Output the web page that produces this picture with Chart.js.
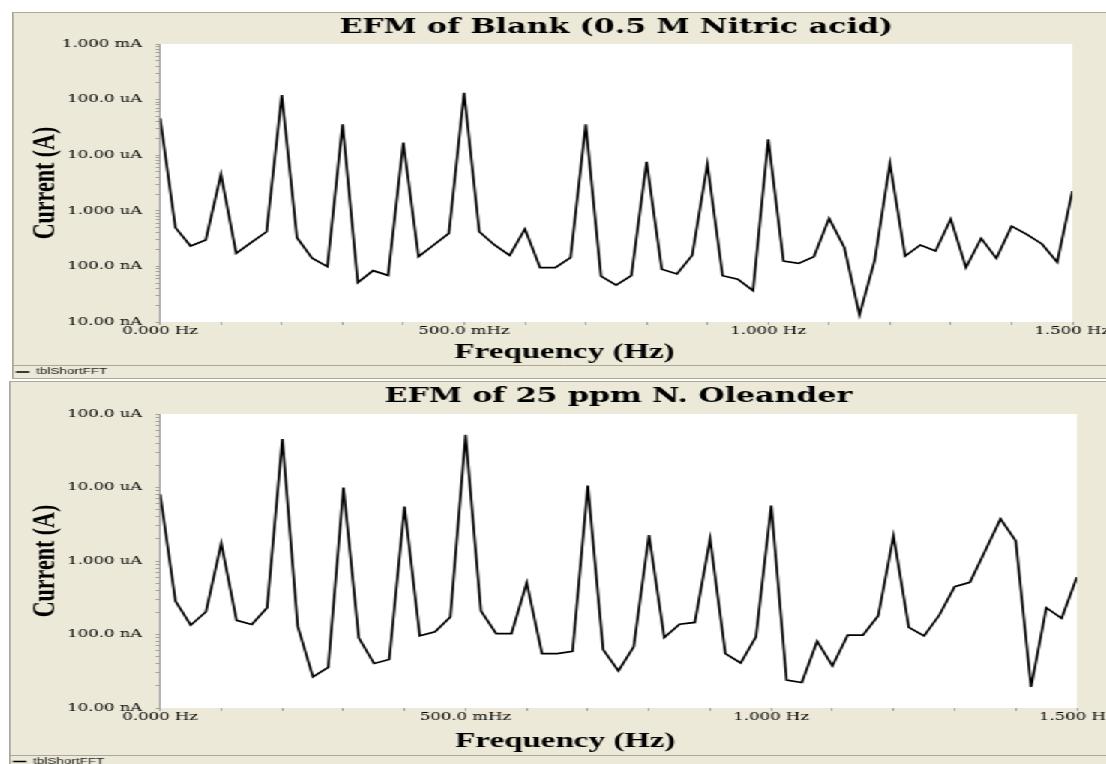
<!DOCTYPE html>
<html>
<head>
<meta charset="utf-8">
<title>EFM spectra</title>
<script src="https://cdn.jsdelivr.net/npm/chart.js@4.4.1/dist/chart.umd.min.js"></script>
<style>
  html, body { margin: 0; padding: 0; background: #fff; overflow: hidden; width: 1106px; height: 764px; }
  /* panels are laid out narrow and stretched 1.5x sideways, like the instrument export */
  #page { position: absolute; left: 0; top: 0; width: 738px; height: 764px; transform: scaleX(1.5); transform-origin: 0 0; }
  #page canvas { position: absolute; }
  #blankChart { left: 8px; top: 12px; }
  #oleanderChart { left: 6px; top: 381px; }
</style>
</head>
<body>
<div id="page">
  <canvas id="blankChart" width="737" height="367"></canvas>
  <canvas id="oleanderChart" width="742" height="395"></canvas>
</div>
<script>
// frequency bins of the short FFT (Hz)
const freqHz = [
  0.000, 0.025, 0.050, 0.075, 0.100, 0.125, 0.150, 0.175, 0.200, 0.225,
  0.250, 0.275, 0.300, 0.325, 0.350, 0.375, 0.400, 0.425, 0.450, 0.475,
  0.500, 0.525, 0.550, 0.575, 0.600, 0.625, 0.650, 0.675, 0.700, 0.725,
  0.750, 0.775, 0.800, 0.825, 0.850, 0.875, 0.900, 0.925, 0.950, 0.975,
  1.000, 1.025, 1.050, 1.075, 1.100, 1.125, 1.150, 1.175, 1.200, 1.225,
  1.250, 1.275, 1.300, 1.325, 1.350, 1.375, 1.400, 1.425, 1.450, 1.475,
  1.500
];

// current amplitude (A) - blank, 0.5 M nitric acid
const blankCurrent = [
  4.6e-5, 5.0e-7, 2.33e-7, 2.99e-7, 4.53e-6, 1.72e-7, 2.71e-7, 4.2e-7, 1.21e-4, 3.28e-7,
  1.40e-7, 9.9e-8, 3.59e-5, 5.1e-8, 8.4e-8, 6.9e-8, 1.68e-5, 1.5e-7, 2.43e-7, 3.94e-7,
  1.33e-4, 4.2e-7, 2.43e-7, 1.58e-7, 4.71e-7, 9.5e-8, 9.5e-8, 1.44e-7, 3.59e-5, 6.7e-8,
  4.6e-8, 6.8e-8, 7.6e-6, 8.9e-8, 7.3e-8, 1.58e-7, 6.9e-6, 6.8e-8, 5.9e-8, 3.66e-8,
  1.93e-5, 1.25e-7, 1.13e-7, 1.5e-7, 7.3e-7, 2.2e-7, 1.34e-8, 1.30e-7, 7.1e-6, 1.54e-7,
  2.43e-7, 1.89e-7, 7.1e-7, 9.5e-8, 3.2e-7, 1.40e-7, 5.3e-7, 3.77e-7, 2.53e-7, 1.19e-7,
  2.27e-6
];

// current amplitude (A) - 25 ppm N. oleander
const oleanderCurrent = [
  8.1e-6, 2.85e-7, 1.34e-7, 2.04e-7, 1.74e-6, 1.56e-7, 1.37e-7, 2.31e-7, 4.56e-5, 1.30e-7,
  2.65e-8, 3.56e-8, 1.0e-5, 9.0e-8, 4.03e-8, 4.57e-8, 5.5e-6, 9.6e-8, 1.09e-7, 1.73e-7,
  5.2e-5, 2.1e-7, 1.03e-7, 1.03e-7, 5.06e-7, 5.5e-8, 5.5e-8, 5.9e-8, 1.06e-5, 6.25e-8,
  3.2e-8, 6.8e-8, 2.26e-6, 9.1e-8, 1.38e-7, 1.46e-7, 2.0e-6, 5.5e-8, 4.1e-8, 9.3e-8,
  5.7e-6, 2.39e-8, 2.22e-8, 8.1e-8, 3.74e-8, 9.8e-8, 9.8e-8, 1.80e-7, 2.19e-6, 1.25e-7,
  9.6e-8, 1.84e-7, 4.47e-7, 5.13e-7, 1.38e-6, 3.74e-6, 1.88e-6, 1.93e-8, 2.31e-7, 1.66e-7,
  6.0e-7
];

// decade labels, starting at 10 nA
const blankYLabels = ['10.00 nA', '100.0 nA', '1.000 uA', '10.00 uA', '100.0 uA', '1.000 mA'];
const oleanderYLabels = ['10.00 nA', '100.0 nA', '1.000 uA', '10.00 uA', '100.0 uA'];
const freqLabels = ['0.000 Hz', '500.0 mHz', '1.000 Hz', '1.500 Hz'];

Chart.defaults.font.family = 'DejaVu Serif';
Chart.defaults.color = '#000';

// beige panel, white plot, separator over the legend and the x caption
const panelFrame = {
  id: 'panelFrame',
  beforeDraw(chart) {
    const { ctx, width, height, chartArea, legend } = chart;
    ctx.save();
    ctx.fillStyle = '#ECE9D8';
    ctx.fillRect(0, 0, width, height);
    ctx.fillStyle = '#FFFFFF';
    ctx.fillRect(chartArea.left, chartArea.top, chartArea.right - chartArea.left, chartArea.bottom - chartArea.top);
    ctx.strokeStyle = '#ACA899';
    ctx.lineWidth = 1;
    ctx.strokeRect(0.5, 0.5, width + 4, height - 1);
    const sepY = Math.round(legend.top) + 0.5;
    ctx.beginPath();
    ctx.moveTo(0, sepY);
    ctx.lineTo(width, sepY);
    ctx.stroke();
    ctx.restore();
  },
  afterDraw(chart) {
    // the x caption is centred on the whole panel, not on the plot
    const { ctx, width, legend } = chart;
    ctx.save();
    ctx.font = 'bold 22px "Liberation Serif"';
    ctx.fillStyle = '#000';
    ctx.textAlign = 'center';
    ctx.textBaseline = 'middle';
    ctx.fillText('Frequency (Hz)', width / 2, legend.top - 13);
    ctx.restore();
  }
};

function makeSpectrum(canvasId, title, current, yLabels, box) {
  const minExp = -8;
  const maxExp = minExp + yLabels.length - 1;
  const ctx = document.getElementById(canvasId).getContext('2d');
  return new Chart(ctx, {
    type: 'line',
    data: {
      datasets: [{
        label: 'tblShortFFT',
        data: freqHz.map((f, i) => ({ x: f, y: current[i] })),
        borderColor: '#000',
        backgroundColor: '#000',
        borderWidth: 1.7,
        pointRadius: 0,
        tension: 0,
        fill: false
      }]
    },
    options: {
      responsive: false,
      animation: false,
      layout: { padding: { left: 0, right: 30, top: 0, bottom: box.padBottom } },
      plugins: {
        title: {
          display: true,
          text: title,
          fullSize: false,
          color: '#000',
          font: { family: 'DejaVu Serif', weight: 'bold', size: 20 },
          padding: { top: 4, bottom: box.titleGap }
        },
        legend: {
          display: true,
          position: 'bottom',
          align: 'start',
          labels: {
            usePointStyle: true,
            pointStyle: 'line',
            pointStyleWidth: 9,
            padding: 2.5,
            color: '#222',
            font: { family: 'Liberation Sans', size: 9 }
          }
        },
        tooltip: { enabled: false }
      },
      scales: {
        x: {
          type: 'linear',
          min: 0,
          max: 1.5,
          border: { display: false },
          grid: { drawOnChartArea: false, drawTicks: true, tickLength: 3, color: '#A0A0A0' },
          ticks: {
            stepSize: 0.1,
            autoSkip: false,
            maxRotation: 0,
            minRotation: 0,
            padding: 0,
            font: { family: 'DejaVu Serif', size: 11 },
            callback: (value) => {
              const k = value / 0.5;
              return Math.abs(k - Math.round(k)) < 1e-6 ? freqLabels[Math.round(k)] : '';
            }
          },
          afterFit: (scale) => { scale.height = box.xHeight; }
        },
        y: {
          type: 'logarithmic',
          min: Math.pow(10, minExp),
          max: Math.pow(10, maxExp),
          border: { display: true, color: '#A0A0A0' },
          grid: { drawOnChartArea: false, drawTicks: true, tickLength: 3, color: '#A0A0A0' },
          title: {
            display: true,
            text: 'Current (A)',
            color: '#000',
            font: { family: 'Liberation Serif', weight: 'bold', size: 22 },
            padding: { top: box.yTitleGap, bottom: 0 }
          },
          ticks: {
            autoSkip: false,
            padding: 9,
            font: { family: 'DejaVu Serif', size: 11 },
            callback: (value) => {
              const e = Math.log10(value);
              const r = Math.round(e);
              return Math.abs(e - r) < 1e-9 ? yLabels[r - minExp] : '';
            }
          },
          // 1..9 marks in every decade
          afterBuildTicks: (scale) => {
            const ticks = [];
            for (let e = minExp; e < maxExp; e++) {
              for (let m = 1; m <= 9; m++) ticks.push({ value: m * Math.pow(10, e) });
            }
            ticks.push({ value: Math.pow(10, maxExp) });
            scale.ticks = ticks;
          },
          afterFit: (scale) => { scale.width = box.yWidth; }
        }
      }
    },
    plugins: [panelFrame]
  });
}

const blankChart = makeSpectrum('blankChart', 'EFM of Blank (0.5 M Nitric acid)', blankCurrent, blankYLabels,
  { yWidth: 98.7, xHeight: 43, titleGap: 4, yTitleGap: 9.5, padBottom: -7.5 });

const oleanderChart = makeSpectrum('oleanderChart', 'EFM of 25 ppm N. Oleander', oleanderCurrent, oleanderYLabels,
  { yWidth: 100.7, xHeight: 46.5, titleGap: 5, yTitleGap: 11.5, padBottom: 0 });
</script>
</body>
</html>
